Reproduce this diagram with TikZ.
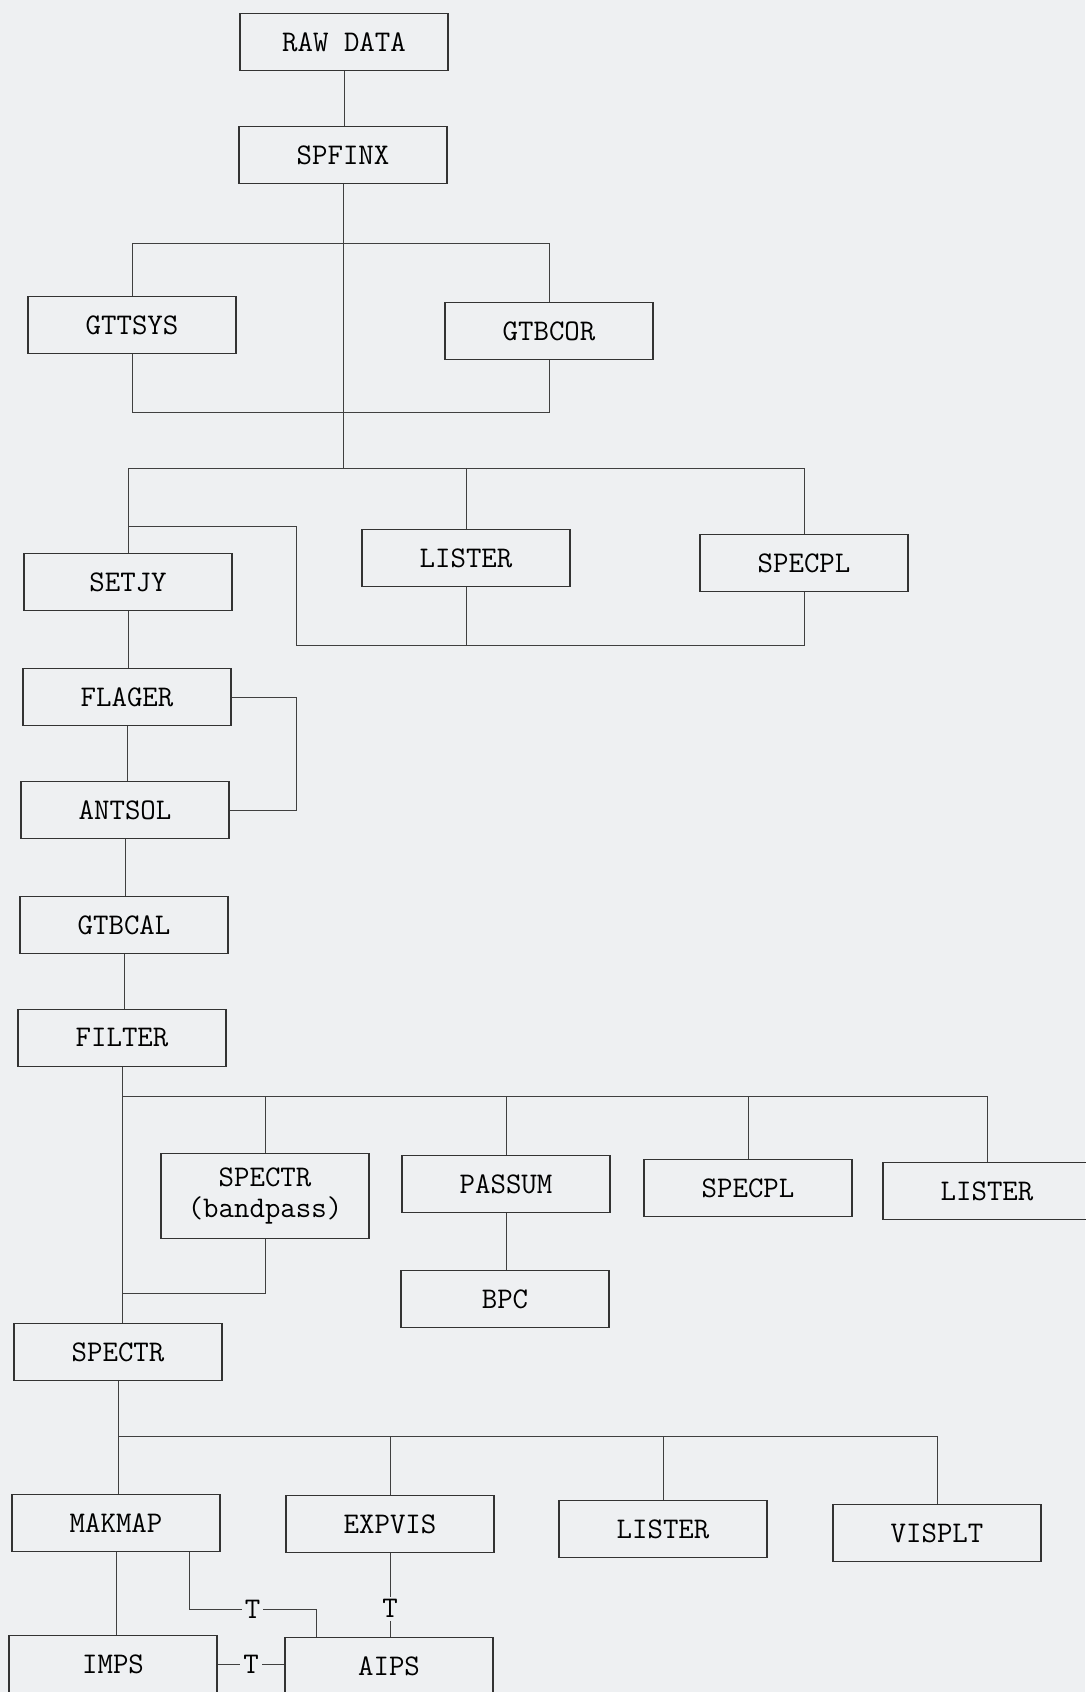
\documentclass[tikz,border=0pt]{standalone}
\usepackage{xcolor}
\usepackage{fontspec}
\usepackage{tikz}
\usetikzlibrary{positioning}

\definecolor{paper}{RGB}{238,240,242}

\begin{document}
\begin{tikzpicture}[
x=1pt, y=1pt,
boxnode/.style={rectangle, draw=black!80, line width=1.5pt, minimum width=208pt, minimum height=57pt, inner sep=2pt, font=\ttfamily\fontsize{30}{31}\selectfont},
link/.style={draw=black!75, line width=1pt},
tlabel/.style={fill=paper, inner sep=3pt, font=\ttfamily\fontsize{30}{31}\selectfont},
]
\useasboundingbox (0,0) rectangle (1085,-1692);
\fill[paper] (0,0) rectangle (1085,-1692);

%Nodes
\node[boxnode] (raw) at (344,-42) {RAW DATA};
\node[boxnode] (spfinx) at (343,-155) {SPFINX};
\node[boxnode] (gttsys) at (132,-325) {GTTSYS};
\node[boxnode] (gtbcor) at (549,-331) {GTBCOR};
\node[boxnode] (setjy) at (128,-582) {SETJY};
\node[boxnode] (lister_a) at (466,-558) {LISTER};
\node[boxnode] (specpl_a) at (804,-563) {SPECPL};
\node[boxnode] (flager) at (127,-697) {FLAGER};
\node[boxnode] (antsol) at (125,-810) {ANTSOL};
\node[boxnode] (gtbcal) at (124,-925) {GTBCAL};
\node[boxnode] (filter) at (122,-1038) {FILTER};
\node[boxnode, minimum height=85pt, align=center] (spectr_bp) at (265,-1196) {SPECTR\\(bandpass)};
\node[boxnode] (passum) at (506,-1184) {PASSUM};
\node[boxnode] (bpc) at (505,-1299) {BPC};
\node[boxnode] (specpl_b) at (748,-1188) {SPECPL};
\node[boxnode] (lister_b) at (987,-1191) {LISTER};
\node[boxnode] (spectr) at (118,-1352) {SPECTR};
\node[boxnode] (makmap) at (116,-1523) {MAKMAP};
\node[boxnode] (expvis) at (390,-1524) {EXPVIS};
\node[boxnode] (lister_c) at (663,-1529) {LISTER};
\node[boxnode] (visplt) at (937,-1533) {VISPLT};
\node[boxnode] (imps) at (113,-1664) {IMPS};
\node[boxnode] (aips) at (389,-1666) {AIPS};

%Junctions
\coordinate (bus_a) at (0,-243);
\coordinate (join_a) at (0,-412);
\coordinate (bus_b) at (0,-468);
\coordinate (side) at (296,-526);
\coordinate (join_b) at (0,-645);
\coordinate (bus_c) at (0,-1096);
\coordinate (join_c) at (0,-1293);
\coordinate (bus_d) at (0,-1436);
\coordinate (t_left) at (189,-1609);
\coordinate (t_right) at (316,-1609);

%Lines
\draw[link] (raw.south) -- (raw.south |- spfinx.north);
\draw[link] (spfinx.south) -- (spfinx.south |- bus_b);
\draw[link] (gttsys.north) -- (gttsys.north |- bus_a) -- (gtbcor.north |- bus_a) -- (gtbcor.north);
\draw[link] (gttsys.south) -- (gttsys.south |- join_a) -- (gtbcor.south |- join_a) -- (gtbcor.south);
\draw[link] (setjy.north) -- (setjy.north |- bus_b) -- (specpl_a.north |- bus_b) -- (specpl_a.north);
\draw[link] (lister_a.north) -- (lister_a.north |- bus_b);
\draw[link] (setjy.north |- side) -- (side) -- (side |- join_b) -- (specpl_a.south |- join_b) -- (specpl_a.south);
\draw[link] (lister_a.south) -- (lister_a.south |- join_b);
\draw[link] (setjy.south) -- (setjy.south |- flager.north);
\draw[link] (flager.east) -- (flager.east -| side) -- (antsol.east -| side) -- (antsol.east);
\draw[link] (flager.south) -- (flager.south |- antsol.north);
\draw[link] (antsol.south) -- (antsol.south |- gtbcal.north);
\draw[link] (gtbcal.south) -- (gtbcal.south |- filter.north);
\draw[link] (filter.south) -- (filter.south |- spectr.north);
\draw[link] (filter.south |- bus_c) -- (lister_b.north |- bus_c) -- (lister_b.north);
\draw[link] (spectr_bp.north) -- (spectr_bp.north |- bus_c);
\draw[link] (passum.north) -- (passum.north |- bus_c);
\draw[link] (specpl_b.north) -- (specpl_b.north |- bus_c);
\draw[link] (spectr_bp.south) -- (spectr_bp.south |- join_c) -- (filter.south |- join_c);
\draw[link] (passum.south) -- (passum.south |- bpc.north);
\draw[link] (spectr.south) -- (spectr.south |- makmap.north);
\draw[link] (spectr.south |- bus_d) -- (visplt.north |- bus_d) -- (visplt.north);
\draw[link] (expvis.north) -- (expvis.north |- bus_d);
\draw[link] (lister_c.north) -- (lister_c.north |- bus_d);
\draw[link] (makmap.south) -- (makmap.south |- imps.north);
\draw[link] (makmap.south -| t_left) -- (t_left) -- node[tlabel] {T} (t_right) -- (t_right |- aips.north);
\draw[link] (expvis.south) -- node[tlabel, pos=0.665] {T} (expvis.south |- aips.north);
\draw[link] (imps.east) -- node[tlabel] {T} (imps.east -| aips.west);

\end{tikzpicture}
\end{document}
